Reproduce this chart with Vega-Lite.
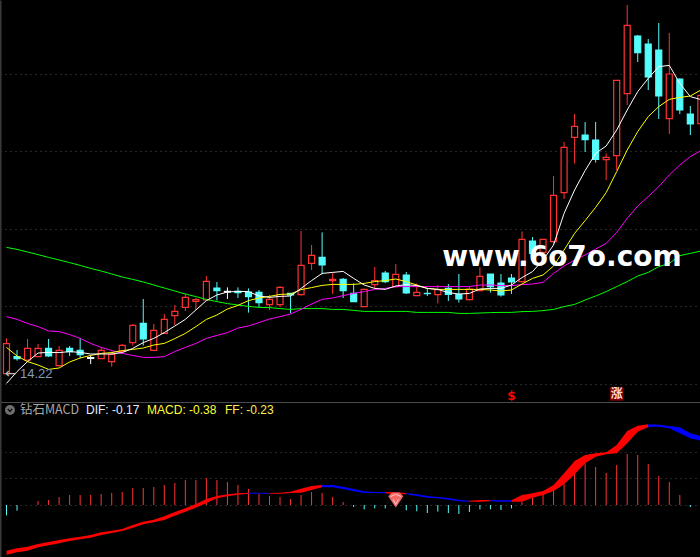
{"$schema":"https://vega.github.io/schema/vega-lite/v6.json","background":"#000000","padding":0,"spacing":0,"config":{"view":{"stroke":null},"concat":{"spacing":0}},"resolve":{"scale":{"color":"independent"}},
"datasets":{
"candles":[
{"i":0,"o":14.24,"c":15.74,"h":16.00,"l":14.22,"d":"up"},{"i":1,"o":15.09,"c":14.99,"h":15.42,"l":14.89,"d":"down"},{"i":2,"o":14.92,"c":15.50,"h":15.97,"l":14.84,"d":"up"},{"i":3,"o":15.09,"c":15.50,"h":15.72,"l":15.09,"d":"up"},{"i":4,"o":15.50,"c":15.12,"h":15.97,"l":15.07,"d":"down"},{"i":5,"o":14.64,"c":15.40,"h":15.62,"l":14.59,"d":"up"},{"i":6,"o":15.50,"c":15.34,"h":15.62,"l":15.12,"d":"down"},{"i":7,"o":15.40,"c":15.19,"h":16.00,"l":15.00,"d":"down"},{"i":8,"o":15.04,"c":15.00,"h":15.17,"l":14.72,"d":"flat"},{"i":9,"o":14.99,"c":15.40,"h":15.55,"l":14.99,"d":"up"},{"i":10,"o":14.84,"c":15.20,"h":15.34,"l":14.59,"d":"up"},{"i":11,"o":15.35,"c":15.65,"h":15.72,"l":15.32,"d":"up"},{"i":12,"o":15.79,"c":16.65,"h":16.72,"l":15.64,"d":"up"},{"i":13,"o":16.75,"c":15.97,"h":17.97,"l":15.64,"d":"down"},{"i":14,"o":15.40,"c":16.40,"h":16.72,"l":15.39,"d":"up"},{"i":15,"o":16.25,"c":16.95,"h":17.22,"l":16.22,"d":"up"},{"i":16,"o":17.14,"c":17.35,"h":17.67,"l":16.67,"d":"up"},{"i":17,"o":17.55,"c":18.05,"h":18.20,"l":17.37,"d":"up"},{"i":18,"o":17.85,"c":17.94,"h":18.04,"l":17.42,"d":"up"},{"i":19,"o":17.92,"c":18.85,"h":19.12,"l":17.89,"d":"up"},{"i":20,"o":18.52,"c":18.39,"h":18.82,"l":17.89,"d":"down"},{"i":21,"o":18.35,"c":18.32,"h":18.55,"l":17.97,"d":"flat"},{"i":22,"o":18.35,"c":18.29,"h":18.55,"l":18.02,"d":"down"},{"i":23,"o":18.32,"c":18.09,"h":18.50,"l":17.29,"d":"down"},{"i":24,"o":18.30,"c":17.79,"h":18.42,"l":17.55,"d":"down"},{"i":25,"o":17.69,"c":17.95,"h":18.17,"l":17.42,"d":"up"},{"i":26,"o":17.69,"c":18.55,"h":18.62,"l":17.57,"d":"up"},{"i":27,"o":18.25,"c":18.17,"h":18.25,"l":17.25,"d":"down"},{"i":28,"o":18.19,"c":19.65,"h":21.37,"l":18.14,"d":"up"},{"i":29,"o":19.75,"c":20.15,"h":20.67,"l":19.42,"d":"up"},{"i":30,"o":20.05,"c":19.67,"h":21.30,"l":19.20,"d":"down"},{"i":31,"o":18.89,"c":18.95,"h":19.29,"l":18.22,"d":"up"},{"i":32,"o":18.95,"c":18.39,"h":19.02,"l":18.02,"d":"down"},{"i":33,"o":18.25,"c":17.84,"h":18.75,"l":17.84,"d":"down"},{"i":34,"o":17.59,"c":18.45,"h":18.49,"l":17.59,"d":"up"},{"i":35,"o":18.69,"c":18.89,"h":19.57,"l":18.50,"d":"up"},{"i":36,"o":19.27,"c":18.84,"h":19.37,"l":18.77,"d":"down"},{"i":37,"o":18.59,"c":19.20,"h":19.72,"l":18.55,"d":"up"},{"i":38,"o":19.17,"c":18.27,"h":19.32,"l":18.22,"d":"down"},{"i":39,"o":18.14,"c":18.30,"h":18.75,"l":18.14,"d":"up"},{"i":40,"o":18.25,"c":18.24,"h":18.50,"l":18.12,"d":"down"},{"i":41,"o":18.19,"c":18.44,"h":18.67,"l":17.75,"d":"up"},{"i":42,"o":18.50,"c":18.20,"h":18.72,"l":17.87,"d":"down"},{"i":43,"o":18.19,"c":17.97,"h":19.22,"l":17.79,"d":"down"},{"i":44,"o":17.94,"c":18.47,"h":18.59,"l":17.90,"d":"up"},{"i":45,"o":18.39,"c":19.10,"h":19.55,"l":18.35,"d":"up"},{"i":46,"o":19.22,"c":18.59,"h":19.22,"l":18.29,"d":"down"},{"i":47,"o":18.77,"c":18.17,"h":19.22,"l":18.09,"d":"down"},{"i":48,"o":19.02,"c":18.82,"h":19.22,"l":18.22,"d":"down"},{"i":49,"o":18.84,"c":20.95,"h":21.35,"l":18.80,"d":"up"},{"i":50,"o":20.87,"c":20.25,"h":21.07,"l":20.25,"d":"down"},{"i":51,"o":20.30,"c":20.95,"h":20.95,"l":20.17,"d":"up"},{"i":52,"o":20.84,"c":23.15,"h":24.12,"l":20.72,"d":"up"},{"i":53,"o":23.29,"c":25.55,"h":25.82,"l":22.97,"d":"up"},{"i":54,"o":26.05,"c":26.60,"h":27.22,"l":24.74,"d":"up"},{"i":55,"o":26.17,"c":25.94,"h":26.82,"l":25.32,"d":"down"},{"i":56,"o":25.92,"c":24.95,"h":26.82,"l":24.79,"d":"down"},{"i":57,"o":24.94,"c":25.05,"h":25.25,"l":23.92,"d":"up"},{"i":58,"o":25.14,"c":28.90,"h":28.90,"l":24.42,"d":"up"},{"i":59,"o":28.24,"c":31.65,"h":32.67,"l":27.67,"d":"up"},{"i":60,"o":31.12,"c":30.29,"h":31.17,"l":29.82,"d":"down"},{"i":61,"o":30.72,"c":29.07,"h":30.97,"l":28.42,"d":"down"},{"i":62,"o":30.42,"c":28.12,"h":31.77,"l":26.97,"d":"down"},{"i":63,"o":26.99,"c":29.22,"h":31.27,"l":26.22,"d":"up"},{"i":64,"o":28.97,"c":27.42,"h":29.00,"l":27.22,"d":"down"},{"i":65,"o":27.22,"c":26.72,"h":27.62,"l":26.17,"d":"down"},{"i":66,"o":26.74,"c":28.15,"h":28.55,"l":26.59,"d":"up"}],
"ma":[
{"i":0,"w":13.75,"y":15.55,"m":17.09,"g":20.55},{"i":1,"w":14.34,"y":15.12,"m":16.95,"g":20.45},{"i":2,"w":14.84,"y":14.84,"m":16.75,"g":20.32},{"i":3,"w":15.27,"y":14.67,"m":16.59,"g":20.19},{"i":4,"w":15.30,"y":14.45,"m":16.37,"g":20.05},{"i":5,"w":15.29,"y":14.52,"m":16.34,"g":19.92},{"i":6,"w":15.34,"y":14.82,"m":16.19,"g":19.79},{"i":7,"w":15.30,"y":15.02,"m":16.00,"g":19.65},{"i":8,"w":15.22,"y":15.15,"m":15.75,"g":19.50},{"i":9,"w":15.22,"y":15.25,"m":15.55,"g":19.37},{"i":10,"w":15.22,"y":15.29,"m":15.39,"g":19.22},{"i":11,"w":15.29,"y":15.39,"m":15.25,"g":19.07},{"i":12,"w":15.50,"y":15.45,"m":15.15,"g":18.95},{"i":13,"w":15.79,"y":15.52,"m":15.05,"g":18.82},{"i":14,"w":16.00,"y":15.67,"m":15.05,"g":18.67},{"i":15,"w":16.29,"y":15.75,"m":15.09,"g":18.52},{"i":16,"w":16.62,"y":15.99,"m":15.34,"g":18.37},{"i":17,"w":16.95,"y":16.25,"m":15.55,"g":18.22},{"i":18,"w":17.42,"y":16.59,"m":15.75,"g":18.09},{"i":19,"w":17.89,"y":16.95,"m":16.00,"g":17.95},{"i":20,"w":18.17,"y":17.17,"m":16.15,"g":17.84},{"i":21,"w":18.32,"y":17.47,"m":16.29,"g":17.74},{"i":22,"w":18.35,"y":17.65,"m":16.52,"g":17.67},{"i":23,"w":18.34,"y":17.89,"m":16.62,"g":17.60},{"i":24,"w":18.12,"y":18.02,"m":16.79,"g":17.55},{"i":25,"w":18.05,"y":18.10,"m":16.97,"g":17.54},{"i":26,"w":18.10,"y":18.20,"m":17.09,"g":17.49},{"i":27,"w":18.12,"y":18.22,"m":17.22,"g":17.45},{"i":28,"w":18.50,"y":18.44,"m":17.45,"g":17.49},{"i":29,"w":18.89,"y":18.54,"m":17.72,"g":17.49},{"i":30,"w":19.25,"y":18.65,"m":17.95,"g":17.49},{"i":31,"w":19.30,"y":18.70,"m":18.02,"g":17.45},{"i":32,"w":19.35,"y":18.70,"m":18.14,"g":17.45},{"i":33,"w":19.00,"y":18.70,"m":18.25,"g":17.40},{"i":34,"w":18.67,"y":18.75,"m":18.34,"g":17.35},{"i":35,"w":18.50,"y":18.84,"m":18.45,"g":17.35},{"i":36,"w":18.45,"y":18.89,"m":18.50,"g":17.35},{"i":37,"w":18.62,"y":18.97,"m":18.59,"g":17.35},{"i":38,"w":18.69,"y":18.84,"m":18.59,"g":17.35},{"i":39,"w":18.64,"y":18.67,"m":18.59,"g":17.30},{"i":40,"w":18.50,"y":18.50,"m":18.59,"g":17.30},{"i":41,"w":18.45,"y":18.45,"m":18.59,"g":17.30},{"i":42,"w":18.29,"y":18.45,"m":18.59,"g":17.30},{"i":43,"w":18.22,"y":18.45,"m":18.59,"g":17.25},{"i":44,"w":18.25,"y":18.45,"m":18.59,"g":17.25},{"i":45,"w":18.47,"y":18.45,"m":18.67,"g":17.27},{"i":46,"w":18.50,"y":18.42,"m":18.67,"g":17.29},{"i":47,"w":18.50,"y":18.37,"m":18.64,"g":17.30},{"i":48,"w":18.67,"y":18.42,"m":18.64,"g":17.30},{"i":49,"w":19.04,"y":18.72,"m":18.69,"g":17.34},{"i":50,"w":19.34,"y":19.00,"m":18.72,"g":17.35},{"i":51,"w":19.92,"y":19.17,"m":18.80,"g":17.39},{"i":52,"w":20.67,"y":19.62,"m":19.25,"g":17.45},{"i":53,"w":22.25,"y":20.42,"m":19.62,"g":17.59},{"i":54,"w":23.42,"y":21.25,"m":19.92,"g":17.70},{"i":55,"w":24.39,"y":21.89,"m":20.17,"g":17.92},{"i":56,"w":25.25,"y":22.55,"m":20.47,"g":18.12},{"i":57,"w":25.62,"y":23.29,"m":20.75,"g":18.34},{"i":58,"w":26.42,"y":24.34,"m":21.30,"g":18.59},{"i":59,"w":27.42,"y":25.42,"m":22.00,"g":18.84},{"i":60,"w":28.34,"y":26.34,"m":22.62,"g":19.12},{"i":61,"w":29.00,"y":27.09,"m":23.09,"g":19.30},{"i":62,"w":29.59,"y":27.59,"m":23.59,"g":19.59},{"i":63,"w":29.65,"y":27.95,"m":24.17,"g":19.75},{"i":64,"w":28.75,"y":28.05,"m":24.67,"g":20.14},{"i":65,"w":28.09,"y":28.12,"m":25.09,"g":20.25},{"i":66,"w":27.94,"y":28.42,"m":25.39,"g":20.37}],
"hist":[
{"i":0,"v":-0.207},{"i":1,"v":-0.113},{"i":3,"v":0.08},{"i":4,"v":0.10},{"i":5,"v":0.16},{"i":6,"v":0.20},{"i":7,"v":0.20},{"i":8,"v":0.20},{"i":9,"v":0.22},{"i":10,"v":0.24},{"i":11,"v":0.26},{"i":12,"v":0.34},{"i":13,"v":0.34},{"i":14,"v":0.36},{"i":15,"v":0.40},{"i":16,"v":0.44},{"i":17,"v":0.50},{"i":18,"v":0.50},{"i":19,"v":0.54},{"i":20,"v":0.50},{"i":21,"v":0.46},{"i":22,"v":0.40},{"i":23,"v":0.32},{"i":24,"v":0.23},{"i":25,"v":0.18},{"i":26,"v":0.16},{"i":27,"v":0.12},{"i":28,"v":0.20},{"i":29,"v":0.26},{"i":30,"v":0.24},{"i":31,"v":0.16},{"i":32,"v":0.06},{"i":33,"v":-0.04},{"i":34,"v":-0.087},{"i":35,"v":-0.067},{"i":36,"v":-0.067},{"i":37,"v":-0.02},{"i":38,"v":-0.107},{"i":39,"v":-0.127},{"i":40,"v":-0.16},{"i":41,"v":-0.133},{"i":42,"v":-0.16},{"i":43,"v":-0.18},{"i":44,"v":-0.14},{"i":45,"v":-0.087},{"i":46,"v":-0.087},{"i":47,"v":-0.10},{"i":48,"v":-0.067},{"i":49,"v":0.06},{"i":50,"v":0.14},{"i":51,"v":0.22},{"i":52,"v":0.28},{"i":53,"v":0.42},{"i":54,"v":0.64},{"i":55,"v":0.84},{"i":56,"v":0.76},{"i":57,"v":0.64},{"i":58,"v":0.80},{"i":59,"v":1.02},{"i":60,"v":1.00},{"i":61,"v":0.82},{"i":62,"v":0.58},{"i":63,"v":0.46},{"i":64,"v":0.20},{"i":65,"v":-0.04}],
"ribbon":[
{"s":"A","t":"rise","i":0,"a":-0.913,"b":-0.993},{"s":"A","t":"rise","i":1,"a":-0.867,"b":-0.947},{"s":"A","t":"rise","i":2,"a":-0.833,"b":-0.913},{"s":"A","t":"rise","i":3,"a":-0.78,"b":-0.847},{"s":"A","t":"rise","i":4,"a":-0.74,"b":-0.807},{"s":"A","t":"rise","i":5,"a":-0.70,"b":-0.767},{"s":"A","t":"rise","i":6,"a":-0.667,"b":-0.72},{"s":"A","t":"rise","i":7,"a":-0.633,"b":-0.687},{"s":"A","t":"rise","i":8,"a":-0.60,"b":-0.653},{"s":"A","t":"rise","i":9,"a":-0.547,"b":-0.60},{"s":"A","t":"rise","i":10,"a":-0.513,"b":-0.56},{"s":"A","t":"rise","i":11,"a":-0.48,"b":-0.52},{"s":"A","t":"rise","i":12,"a":-0.40,"b":-0.453},{"s":"A","t":"rise","i":13,"a":-0.333,"b":-0.387},{"s":"A","t":"rise","i":14,"a":-0.293,"b":-0.347},{"s":"A","t":"rise","i":15,"a":-0.227,"b":-0.30},{"s":"A","t":"rise","i":16,"a":-0.14,"b":-0.213},{"s":"A","t":"rise","i":17,"a":-0.067,"b":-0.133},{"s":"A","t":"rise","i":18,"a":0.02,"b":-0.053},{"s":"A","t":"rise","i":19,"a":0.12,"b":0.04},{"s":"A","t":"rise","i":20,"a":0.18,"b":0.133},{"s":"A","t":"rise","i":21,"a":0.213,"b":0.173},{"s":"A","t":"rise","i":22,"a":0.233,"b":0.207},{"s":"A","t":"rise","i":23,"a":0.247,"b":0.227},
{"s":"B","t":"fall","i":23,"a":0.247,"b":0.227},{"s":"B","t":"fall","i":24,"a":0.247,"b":0.227},{"s":"B","t":"fall","i":25,"a":0.24,"b":0.227},
{"s":"C","t":"rise","i":25,"a":0.24,"b":0.227},{"s":"C","t":"rise","i":26,"a":0.247,"b":0.227},{"s":"C","t":"rise","i":27,"a":0.267,"b":0.24},{"s":"C","t":"rise","i":28,"a":0.327,"b":0.247},{"s":"C","t":"rise","i":29,"a":0.38,"b":0.30},{"s":"C","t":"rise","i":30,"a":0.40,"b":0.353},
{"s":"D","t":"fall","i":30,"a":0.40,"b":0.353},{"s":"D","t":"fall","i":31,"a":0.40,"b":0.353},{"s":"D","t":"fall","i":32,"a":0.367,"b":0.32},{"s":"D","t":"fall","i":33,"a":0.32,"b":0.273},{"s":"D","t":"fall","i":34,"a":0.273,"b":0.24},{"s":"D","t":"fall","i":35,"a":0.26,"b":0.24},{"s":"D","t":"fall","i":36,"a":0.26,"b":0.233},
{"s":"E","t":"rise","i":36,"a":0.26,"b":0.233},{"s":"E","t":"rise","i":37,"a":0.253,"b":0.22},{"s":"E","t":"rise","i":38,"a":0.24,"b":0.213},
{"s":"F","t":"fall","i":38,"a":0.24,"b":0.213},{"s":"F","t":"fall","i":39,"a":0.213,"b":0.18},{"s":"F","t":"fall","i":40,"a":0.18,"b":0.147},{"s":"F","t":"fall","i":41,"a":0.16,"b":0.133},{"s":"F","t":"fall","i":42,"a":0.14,"b":0.107},{"s":"F","t":"fall","i":43,"a":0.107,"b":0.073},{"s":"F","t":"fall","i":44,"a":0.087,"b":0.067},
{"s":"G","t":"rise","i":44,"a":0.087,"b":0.067},{"s":"G","t":"rise","i":45,"a":0.10,"b":0.067},{"s":"G","t":"rise","i":46,"a":0.10,"b":0.073},
{"s":"H","t":"fall","i":46,"a":0.10,"b":0.073},{"s":"H","t":"fall","i":47,"a":0.093,"b":0.067},{"s":"H","t":"fall","i":48,"a":0.093,"b":0.067},
{"s":"I","t":"rise","i":48,"a":0.093,"b":0.067},{"s":"I","t":"rise","i":49,"a":0.20,"b":0.067},{"s":"I","t":"rise","i":50,"a":0.233,"b":0.147},{"s":"I","t":"rise","i":51,"a":0.28,"b":0.20},{"s":"I","t":"rise","i":52,"a":0.40,"b":0.28},{"s":"I","t":"rise","i":53,"a":0.633,"b":0.413},{"s":"I","t":"rise","i":54,"a":0.88,"b":0.613},{"s":"I","t":"rise","i":55,"a":1.00,"b":0.833},{"s":"I","t":"rise","i":56,"a":1.033,"b":0.967},{"s":"I","t":"rise","i":57,"a":1.053,"b":1.013},{"s":"I","t":"rise","i":58,"a":1.20,"b":1.033},{"s":"I","t":"rise","i":59,"a":1.48,"b":1.233},{"s":"I","t":"rise","i":60,"a":1.587,"b":1.467},{"s":"I","t":"rise","i":61,"a":1.613,"b":1.56},
{"s":"J","t":"fall","i":61,"a":1.613,"b":1.56},{"s":"J","t":"fall","i":62,"a":1.607,"b":1.567},{"s":"J","t":"fall","i":63,"a":1.58,"b":1.533},{"s":"J","t":"fall","i":64,"a":1.553,"b":1.433},{"s":"J","t":"fall","i":65,"a":1.433,"b":1.333},{"s":"J","t":"fall","i":66,"a":1.373,"b":1.287}]
},
"vconcat":[
{"width":700,"height":402,"data":{"name":"candles"},
"layer":[
{"mark":{"type":"rule","strokeWidth":1,"clip":true},"encoding":{
"x":{"field":"i","type":"quantitative","scale":{"domain":[-0.618,65.92],"range":[0,700],"nice":false,"zero":false,"padding":0},"axis":{"title":null,"labels":false,"ticks":false,"grid":false,"domain":true,"domainColor":"#4a4a4a","domainWidth":1}},
"y":{"field":"l","type":"quantitative","scale":{"domain":[12.82,32.92],"nice":false,"zero":false},"axis":{"title":null,"labels":false,"ticks":false,"grid":true,"values":[13.745,17.62,21.495,25.37,29.245],"gridColor":"#4f4f4f","gridDash":[1,4],"gridWidth":1,"domain":true,"domainColor":"#3a3a3a","domainWidth":2}},
"y2":{"field":"h"},
"color":{"field":"d","type":"nominal","legend":null,"scale":{"domain":["up","down","flat"],"range":["#ff3232","#54fcfc","#ffffff"]}}}},
{"mark":{"type":"bar","size":6,"strokeWidth":1.2,"clip":true},"encoding":{
"x":{"field":"i","type":"quantitative"},
"y":{"field":"o","type":"quantitative"},
"y2":{"field":"c"},
"fill":{"field":"d","type":"nominal","legend":null,"scale":{"domain":["up","down","flat"],"range":["#000000","#54fcfc","#ffffff"]}},
"stroke":{"field":"d","type":"nominal","legend":null,"scale":{"domain":["up","down","flat"],"range":["#ff3232","#54fcfc","#ffffff"]}}}},
{"data":{"name":"ma"},"mark":{"type":"line","color":"#00ff00","strokeWidth":1,"clip":true},"encoding":{"x":{"field":"i","type":"quantitative"},"y":{"field":"g","type":"quantitative"}}},
{"data":{"name":"ma"},"mark":{"type":"line","color":"#ff00ff","strokeWidth":1,"clip":true},"encoding":{"x":{"field":"i","type":"quantitative"},"y":{"field":"m","type":"quantitative"}}},
{"data":{"name":"ma"},"mark":{"type":"line","color":"#ffff00","strokeWidth":1,"clip":true},"encoding":{"x":{"field":"i","type":"quantitative"},"y":{"field":"y","type":"quantitative"}}},
{"data":{"name":"ma"},"mark":{"type":"line","color":"#ffffff","strokeWidth":1,"clip":true},"encoding":{"x":{"field":"i","type":"quantitative"},"y":{"field":"w","type":"quantitative"}}},
{"data":{"values":[{"i":1.28,"p":14.22,"t":"14.22"}]},"mark":{"type":"text","align":"left","baseline":"middle","font":"Liberation Sans","fontSize":13,"color":"#7f9cb8"},"encoding":{"x":{"field":"i","type":"quantitative"},"y":{"field":"p","type":"quantitative"},"text":{"field":"t"}}},
{"data":{"values":[{"i":-0.15,"p":14.22,"t":"←"}]},"mark":{"type":"text","align":"left","baseline":"middle","font":"DejaVu Sans","fontSize":14,"color":"#bbbbbb"},"encoding":{"x":{"field":"i","type":"quantitative"},"y":{"field":"p","type":"quantitative"},"text":{"field":"t"}}},
{"data":{"values":[{"i":48,"p":13.12,"t":"$"}]},"mark":{"type":"text","align":"center","baseline":"middle","font":"DejaVu Sans","fontWeight":"bold","fontSize":12,"color":"#ff0000"},"encoding":{"x":{"field":"i","type":"quantitative"},"y":{"field":"p","type":"quantitative"},"text":{"field":"t"}}},
{"data":{"values":[{"i":58,"p":13.22}]},"mark":{"type":"point","shape":"square","filled":true,"size":180,"color":"#800000","opacity":1},"encoding":{"x":{"field":"i","type":"quantitative"},"y":{"field":"p","type":"quantitative"}}},
{"data":{"values":[{"i":58,"p":13.22,"t":"涨"}]},"mark":{"type":"text","align":"center","baseline":"middle","font":"Noto Sans CJK SC","fontSize":12,"fontWeight":"bold","color":"#ffdddd"},"encoding":{"x":{"field":"i","type":"quantitative"},"y":{"field":"p","type":"quantitative"},"text":{"field":"t"}}},
{"data":{"values":[{"i":52.8,"p":20.02,"t":"www.6o7o.com"}]},"mark":{"type":"text","align":"center","baseline":"middle","font":"DejaVu Sans","fontWeight":"bold","fontSize":28,"color":"#ffffff"},"encoding":{"x":{"field":"i","type":"quantitative"},"y":{"field":"p","type":"quantitative"},"text":{"field":"t"}}}
]},
{"width":700,"height":155,
"layer":[
{"data":{"name":"hist"},"mark":{"type":"rule","strokeWidth":1},"encoding":{
"x":{"field":"i","type":"quantitative","scale":{"domain":[-0.618,65.92],"range":[0,700],"nice":false,"zero":false},"axis":{"title":null,"labels":false,"ticks":false,"grid":false,"domain":false}},
"y":{"field":"v","type":"quantitative","scale":{"domain":[-1.04,2.06],"nice":false,"zero":false},"axis":{"title":null,"labels":false,"ticks":false,"grid":true,"values":[0,0.533,1.067],"gridColor":"#4f4f4f","gridDash":[1,4],"gridWidth":1,"domain":true,"domainColor":"#3a3a3a","domainWidth":2}},
"y2":{"datum":0},
"color":{"condition":{"test":"datum.v<0","value":"#54fcfc"},"value":"#ff3232"}}},
{"data":{"name":"ribbon"},"mark":{"type":"area","clip":true,"strokeWidth":0},"encoding":{
"x":{"field":"i","type":"quantitative"},"y":{"field":"a","type":"quantitative"},"y2":{"field":"b"},"detail":{"field":"s"},
"color":{"field":"t","type":"nominal","legend":null,"scale":{"domain":["rise","fall"],"range":["#ff0000","#0000ff"]}}}},
{"data":{"values":[{"i":37,"v":0.1}]},"mark":{"type":"point","filled":true,"shape":"M-1,-0.5L-0.5,-1L0.5,-1L1,-0.5L0,1Z","size":230,"color":"#f06a6a","opacity":1},"encoding":{"x":{"field":"i","type":"quantitative"},"y":{"field":"v","type":"quantitative"}}},
{"data":{"values":[{"i":37,"v":0.1}]},"mark":{"type":"point","filled":false,"shape":"M-0.7,-0.45L0,-0.75L0.7,-0.45M-0.35,-0.1L0,0.6L0.35,-0.1","size":230,"color":"#ffc0c0","strokeWidth":1,"opacity":1},"encoding":{"x":{"field":"i","type":"quantitative"},"y":{"field":"v","type":"quantitative"}}},
{"data":{"values":[{"i":0.33,"v":1.9}]},"mark":{"type":"point","filled":true,"shape":"circle","size":100,"color":"#6e6e6e","opacity":1},"encoding":{"x":{"field":"i","type":"quantitative"},"y":{"field":"v","type":"quantitative"}}},
{"data":{"values":[{"i":0.33,"v":1.9}]},"mark":{"type":"point","filled":false,"shape":"M-0.6,-0.3L0,0.4L0.6,-0.3","size":49,"color":"#111111","strokeWidth":1.5,"opacity":1},"encoding":{"x":{"field":"i","type":"quantitative"},"y":{"field":"v","type":"quantitative"}}},
{"data":{"values":[{"i":1.28,"v":1.9,"t":"钻石MACD"}]},"mark":{"type":"text","align":"left","baseline":"middle","font":"Noto Sans CJK SC","fontSize":12.5,"color":"#a8a8a8"},"encoding":{"x":{"field":"i","type":"quantitative"},"y":{"field":"v","type":"quantitative"},"text":{"field":"t"}}},
{"data":{"values":[{"i":7.56,"v":1.9,"t":"DIF: -0.17"}]},"mark":{"type":"text","align":"left","baseline":"middle","font":"Liberation Sans","fontSize":12,"color":"#e0f0ff"},"encoding":{"x":{"field":"i","type":"quantitative"},"y":{"field":"v","type":"quantitative"},"text":{"field":"t"}}},
{"data":{"values":[{"i":13.36,"v":1.9,"t":"MACD: -0.38"}]},"mark":{"type":"text","align":"left","baseline":"middle","font":"Liberation Sans","fontSize":12,"color":"#ffff33"},"encoding":{"x":{"field":"i","type":"quantitative"},"y":{"field":"v","type":"quantitative"},"text":{"field":"t"}}},
{"data":{"values":[{"i":20.77,"v":1.9,"t":"FF: -0.23"}]},"mark":{"type":"text","align":"left","baseline":"middle","font":"Liberation Sans","fontSize":12,"color":"#ffee55"},"encoding":{"x":{"field":"i","type":"quantitative"},"y":{"field":"v","type":"quantitative"},"text":{"field":"t"}}}
]}
]}
